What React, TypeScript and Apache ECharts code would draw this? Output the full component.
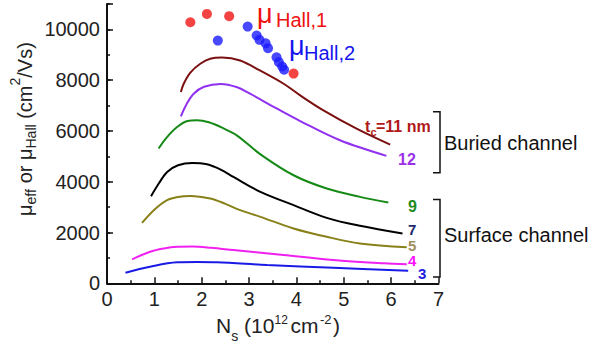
import React, { useEffect, useRef } from "react";
import * as echarts from "echarts";

// ---- data (Ns in 1e12 cm^-2, mobility in cm^2/Vs) ----
const curveTc11: number[][] = [[1.56,7530],[1.62,7860],[1.76,8300],[1.97,8646],[2.18,8843],[2.43,8890],[2.81,8776],[3.23,8383],[3.73,7860],[4.08,7400],[4.57,6811],[5.27,6092],[5.98,5463]];
const curveTc12: number[][] = [[1.56,6575],[1.68,7050],[1.83,7467],[2.05,7740],[2.40,7850],[2.75,7720],[3.02,7467],[3.59,6877],[4.08,6390],[4.92,5632],[5.90,5020]];
const curveTc9: number[][] = [[1.09,5306],[1.25,5720],[1.48,6154],[1.70,6390],[1.90,6420],[2.15,6340],[2.45,6110],[2.74,5828],[3.24,5080],[3.94,4256],[4.64,3733],[5.34,3404],[5.94,3183]];
const curveTc7: number[][] = [[0.93,3431],[1.10,3950],[1.27,4386],[1.50,4650],[1.80,4740],[2.11,4688],[2.40,4480],[2.67,4190],[3.24,3600],[3.94,3077],[4.64,2578],[5.34,2264],[6.24,1965]];
const curveTc5: number[][] = [[0.74,2382],[1.00,2900],[1.27,3274],[1.50,3400],[1.75,3440],[2.18,3340],[2.50,3130],[2.81,2881],[3.24,2617],[3.94,2161],[4.64,1831],[5.34,1572],[6.33,1420]];
const curveTc4: number[][] = [[0.53,943],[0.91,1242],[1.20,1370],[1.48,1438],[1.80,1450],[2.20,1400],[2.67,1309],[3.73,1112],[4.78,916],[5.84,786],[6.33,747]];
const curveTc3: number[][] = [[0.39,417],[0.91,652],[1.48,825],[1.90,840],[2.32,830],[3.38,719],[4.78,613],[6.36,495]];
const hall1: number[][] = [[1.76,10280],[2.11,10610],[2.58,10520],[3.94,8260]];
const hall2: number[][] = [[2.34,9560],[2.97,10110],[3.16,9760],[3.22,9590],[3.35,9450],[3.40,9260],[3.58,8900],[3.63,8710],[3.70,8540],[3.74,8410]];

const xMin = 0, xMax = 7, xStep = 1;
const yMin = 0, yMax = 11000, yStep = 2000, yMinorStep = 1000;

const FONT = "'Liberation Sans', Arial, Helvetica, sans-serif";

function t(x: number, baseline: number, text: string, fs: number, fill: string, weight: string = "normal") {
  return {
    type: "text",
    x,
    y: baseline - 0.35 * fs,
    silent: true,
    style: { text, fontSize: fs, fontFamily: FONT, fontWeight: weight, fill, textAlign: "left", verticalAlign: "middle", textVerticalAlign: "middle" },
  };
}

export default function App() {
  const ref = useRef<HTMLDivElement>(null);
  useEffect(() => {
    if (!ref.current) return;
    const chart = echarts.init(ref.current, undefined, { renderer: "svg" });
    const line = (data: number[][], color: string) => ({
      type: "line",
      data,
      smooth: 0.35,
      symbol: "none",
      showSymbol: false,
      lineStyle: { color, width: 2 },
      itemStyle: { color },
      z: 2,
    });
    const ys = 20, ss = 14;
    const yTitle = {
      type: "group",
      x: 31.5,
      y: 216,
      rotation: Math.PI / 2,
      children: [
        t(0, 0, "μ", ys, "#222"),
        t(11.5, 4, "eff", ss, "#222"),
        t(27.1, 0, " or ", ys, "#222"),
        t(56.0, 0, "μ", ys, "#222"),
        t(67.5, 4, "Hall", ss, "#222"),
        t(91.6, 0, " (cm", ys, "#222"),
        t(130.5, -12, "2", ss, "#222"),
        t(138.3, 0, "/Vs)", ys, "#222"),
      ],
    };
    const xTitle = [
      t(216, 333, "N", 21, "#222"),
      t(231.2, 341, "s", 14, "#222"),
      t(238.2, 333, " (10", 21, "#222"),
      t(274.5, 324, "12", 12, "#222"),
      t(290.5, 333, "cm", 21, "#222"),
      t(320, 324, "-2", 13, "#222"),
      t(333, 333, ")", 21, "#222"),
    ];
    const labels = [
      t(257, 23, "μ", 27, "#ee1111"),
      t(276, 27, "Hall,1", 20, "#ee1111"),
      t(289, 55, "μ", 27, "#1515ee"),
      t(304, 59.5, "Hall,2", 20, "#1515ee"),
      t(365, 132, "t", 16, "#b01818", "bold"),
      t(370.5, 135.5, "c", 11, "#b01818", "bold"),
      t(376, 132, "=11 nm", 16, "#b01818", "bold"),
      t(398, 165, "12", 16, "#9b30e8", "bold"),
      t(408, 212, "9", 16, "#1e8a1e", "bold"),
      t(408, 235, "7", 15, "#1c2a6a", "bold"),
      t(408, 250.5, "5", 15, "#a09060", "bold"),
      t(408, 266, "4", 15, "#ff10ff", "bold"),
      t(418, 278.5, "3", 15, "#2020e0", "bold"),
      t(444, 150, "Buried channel", 20, "#111"),
      t(444, 241.5, "Surface channel", 20, "#111"),
      {
        type: "polyline",
        silent: true,
        shape: { points: [[433, 111.7], [440, 111.7], [440, 172.7], [433, 172.7]] },
        style: { stroke: "#111", lineWidth: 1.5, fill: "none" },
      },
      {
        type: "polyline",
        silent: true,
        shape: { points: [[433, 199.5], [440, 199.5], [440, 277], [433, 277]] },
        style: { stroke: "#111", lineWidth: 1.5, fill: "none" },
      },
    ];
    chart.setOption({
      animation: false,
      backgroundColor: "#fff",
      grid: { left: 107, top: 4, width: 331.5, height: 279.3, containLabel: false },
      xAxis: {
        type: "value",
        min: xMin,
        max: xMax,
        interval: xStep,
        axisLine: { show: true, lineStyle: { color: "#111", width: 2 } },
        axisTick: { show: true, inside: true, length: 6, lineStyle: { color: "#111", width: 1.5 } },
        minorTick: { show: true, splitNumber: 2, length: 3, lineStyle: { color: "#111", width: 1.5 } },
        axisLabel: { fontSize: 20, fontFamily: FONT, color: "#222", margin: 6 },
        splitLine: { show: false },
      },
      yAxis: [
        {
          type: "value",
          position: "left",
          min: yMin,
          max: yMax,
          interval: yStep,
          axisLine: { show: true, lineStyle: { color: "#111", width: 2 } },
          axisTick: { show: true, inside: true, length: 6, lineStyle: { color: "#111", width: 1.5 } },
          axisLabel: {
            fontSize: 20,
            fontFamily: FONT,
            color: "#222",
            margin: 7,
            formatter: (v: number) => (v > 10000 ? "" : String(v)),
          },
          splitLine: { show: false },
        },
        {
          type: "value",
          position: "left",
          min: yMin,
          max: yMax,
          interval: yMinorStep,
          axisLine: { show: false },
          axisTick: { show: true, inside: true, length: 3, lineStyle: { color: "#111", width: 1.5 } },
          axisLabel: { show: false },
          splitLine: { show: false },
        },
      ],
      series: [
        line(curveTc11, "#7b1010"),
        line(curveTc12, "#9030f0"),
        line(curveTc9, "#168a16"),
        line(curveTc7, "#000000"),
        line(curveTc5, "#888018"),
        line(curveTc4, "#f020f0"),
        line(curveTc3, "#1a1ae6"),
        { type: "scatter", data: hall2, symbol: "circle", symbolSize: 10, itemStyle: { color: "#1a1aff" }, z: 3 },
        { type: "scatter", data: hall1, symbol: "circle", symbolSize: 10, itemStyle: { color: "#f01414" }, z: 4 },
      ],
      graphic: [yTitle, ...xTitle, ...labels],
    });
    return () => chart.dispose();
  }, []);
  return <div ref={ref} style={{ position: "absolute", left: 0, top: 0, width: 592, height: 345 }} />;
}
